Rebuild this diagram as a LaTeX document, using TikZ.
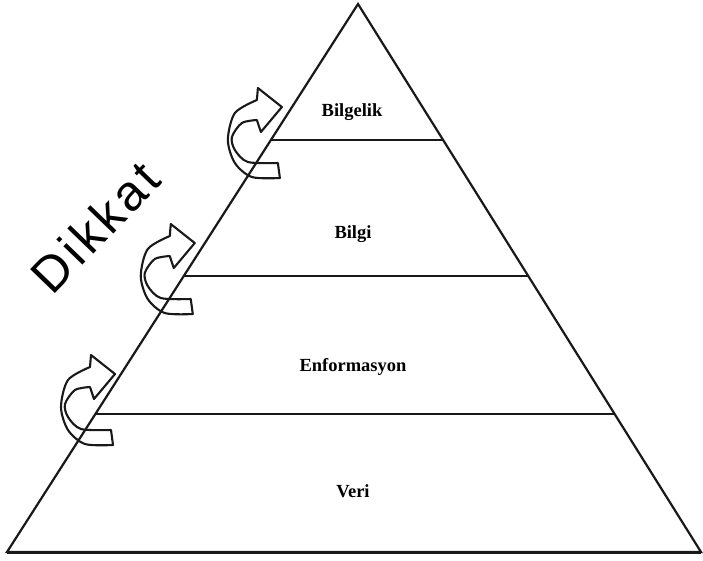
\documentclass[tikz,border=0pt]{standalone}
\usepackage{fontspec}
\usetikzlibrary{calc}
\setmainfont{Liberation Serif}
\newfontfamily\arialfont[LetterSpace=8]{Liberation Sans}
\begin{document}
\begin{tikzpicture}[x=1pt,y=-1pt,
  edge/.style={line width=2.2pt,black!90},
  lbl/.style={font=\bfseries\fontsize{18.5}{20}\selectfont, anchor=base, inner sep=0pt},
  arrowline/.style={line width=2.1pt,black!90,line join=round},
  curvarrow/.pic={
    \draw[arrowline] plot[smooth] coordinates {(7,23) (-23,22) (-36,10) (-39,-3) (-29,-17) (-14,-20)}
      -- (-10,-8) -- (11,-33) -- (-13,-52)
      -- plot[smooth] coordinates {(-14,-40) (-36,-27) (-43,0) (-36,23) (-19,37) (9,38)}
      -- cycle;
  }]
\useasboundingbox (0,0) rectangle (703,560);
\coordinate (apex) at (358,4);
\coordinate (bl) at (7,552);
\coordinate (br) at (701,552);
\coordinate (l1) at ($(apex)!0.2482!(bl)$);
\coordinate (r1) at ($(apex)!0.2482!(br)$);
\coordinate (l2) at ($(apex)!0.4964!(bl)$);
\coordinate (r2) at ($(apex)!0.4964!(br)$);
\coordinate (l3) at ($(apex)!0.7482!(bl)$);
\coordinate (r3) at ($(apex)!0.7482!(br)$);
\draw[edge,line join=miter] (apex) -- (br) -- (bl) -- cycle;
\draw[line width=3pt,black!90] (bl) -- (br);
\draw[edge] (l1) -- (r1);
\draw[edge] (l2) -- (r2);
\draw[edge] (l3) -- (r3);
\node[lbl] (bilgelik) at (352,116) {Bilgelik};
\node[lbl] (bilgi) at (353,238) {Bilgi};
\node[lbl] (enformasyon) at (353,371) {Enformasyon};
\node[lbl] (veri) at (353,497) {Veri};
\pic at (l1) {curvarrow};
\pic at (l2) {curvarrow};
\pic at (104,407) {curvarrow};
\node[font=\arialfont\fontsize{50}{50}\selectfont, rotate=46, inner sep=0pt] (dikkat) at (95,227) {Dikkat};
\end{tikzpicture}
\end{document}
